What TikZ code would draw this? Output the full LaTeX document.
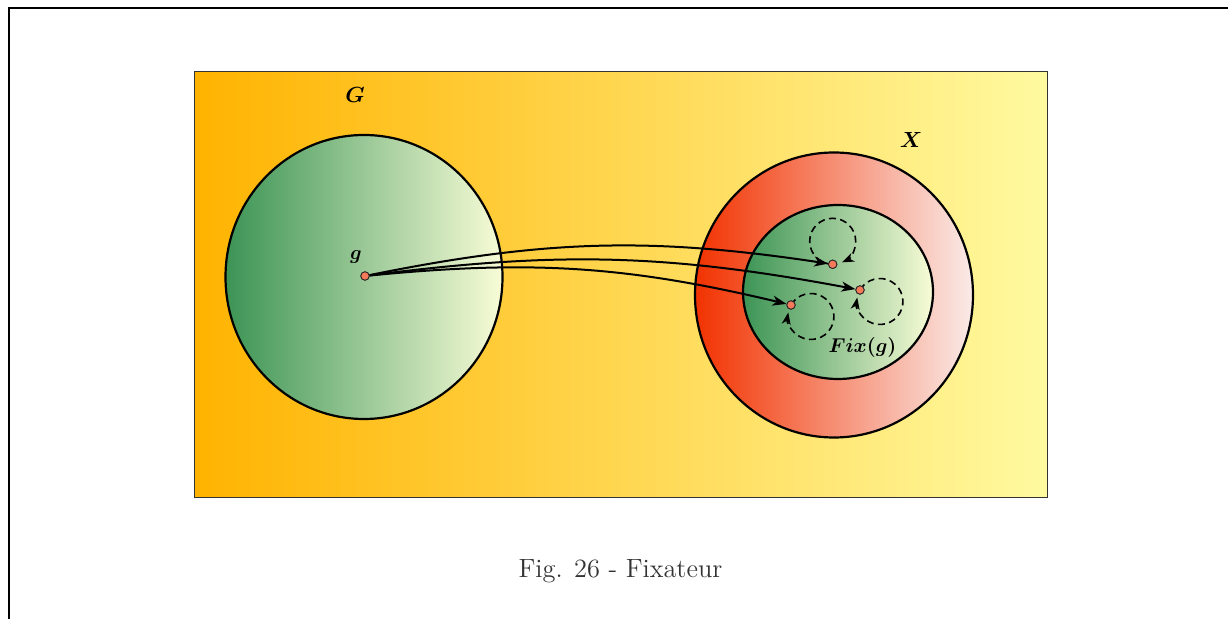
\documentclass[tikz,border=0pt]{standalone}
\usetikzlibrary{arrows.meta}
\definecolor{rectL}{RGB}{255,179,0}
\definecolor{rectR}{RGB}{255,250,160}
\definecolor{greenL}{RGB}{60,148,85}
\definecolor{greenR}{RGB}{248,252,215}
\definecolor{redL}{RGB}{242,50,0}
\definecolor{redR}{RGB}{250,235,232}
\definecolor{dotc}{RGB}{244,122,90}
\tikzset{
  setbox/.style={draw=black, line width=1.1pt},
  dotnode/.style={circle, fill=dotc, draw=black!85, line width=0.4pt, inner sep=0pt, minimum size=4.2pt},
  arr/.style={line width=1pt, -{Stealth[length=7pt,width=5pt,inset=2pt]}},
  loopst/.style={line width=0.8pt, dash pattern=on 3.5pt off 2.2pt, -{Stealth[length=6pt,width=4.5pt,inset=1.8pt]}},
  lbl/.style={font=\fontsize{11}{13}\selectfont\boldmath, anchor=base, inner sep=0pt},
}
\begin{document}
\begin{tikzpicture}[x=0.5pt,y=-0.5pt]
\useasboundingbox (0,0) rectangle (1228,619);
% page frame
\coordinate (fa) at (8.5,640);
\coordinate (fb) at (8.5,8.5);
\coordinate (fc) at (1240,8.5);
\draw[line width=1pt] (fa) -- (fb) -- (fc);
% background rectangle
\draw[draw=black!80, line width=0.5pt, left color=rectL, right color=rectR] (194,72) rectangle (1047,498);
% set G
\draw[setbox, left color=greenL, right color=greenR] (364,277) ellipse [x radius=138.5, y radius=142];
% set X
\draw[setbox, left color=redL, right color=redR] (834,295) ellipse [x radius=139, y radius=142.5];
% Fix(g)
\draw[setbox, left color=greenL, right color=greenR] (838,292) ellipse [x radius=95, y radius=87];
% points
\node[dotnode] (g) at (365,276) {};
\node[dotnode] (p1) at (832.7,264.3) {};
\node[dotnode] (p2) at (860,290) {};
\node[dotnode] (p3) at (791,305) {};
% loops
\draw[loopst] (p1.center) arc[start angle=90, end angle=426, radius=23];
\draw[loopst] (p2.center) arc[start angle=210, end angle=550, radius=23];
\draw[loopst] (p3.center) arc[start angle=210, end angle=550, radius=23];
% arrows
\draw[arr] (g) to[bend left=10] (p1);
\draw[arr] (g) to[bend left=9] (p2);
\draw[arr] (g) to[bend left=9.5] (p3);
% redraw dots on top
\node[dotnode] at (g) {};
\node[dotnode] at (p1) {};
\node[dotnode] at (p2) {};
\node[dotnode] at (p3) {};
% labels
\node[lbl] (lG) at (355,103) {$G$};
\node[lbl] (lX) at (911,148) {$X$};
\node[lbl, font=\fontsize{10}{12}\selectfont\boldmath] (lg) at (356,260) {$g$};
\node[lbl, font=\fontsize{10}{12}\selectfont\boldmath] (lF) at (862.5,353) {$Fix(g)$};
% caption
\node[anchor=base, inner sep=0pt, text=black!80, font=\fontsize{13.2}{15}\selectfont] (cap) at (620.5,578) {Fig. 26 - Fixateur};
\end{tikzpicture}
\end{document}
